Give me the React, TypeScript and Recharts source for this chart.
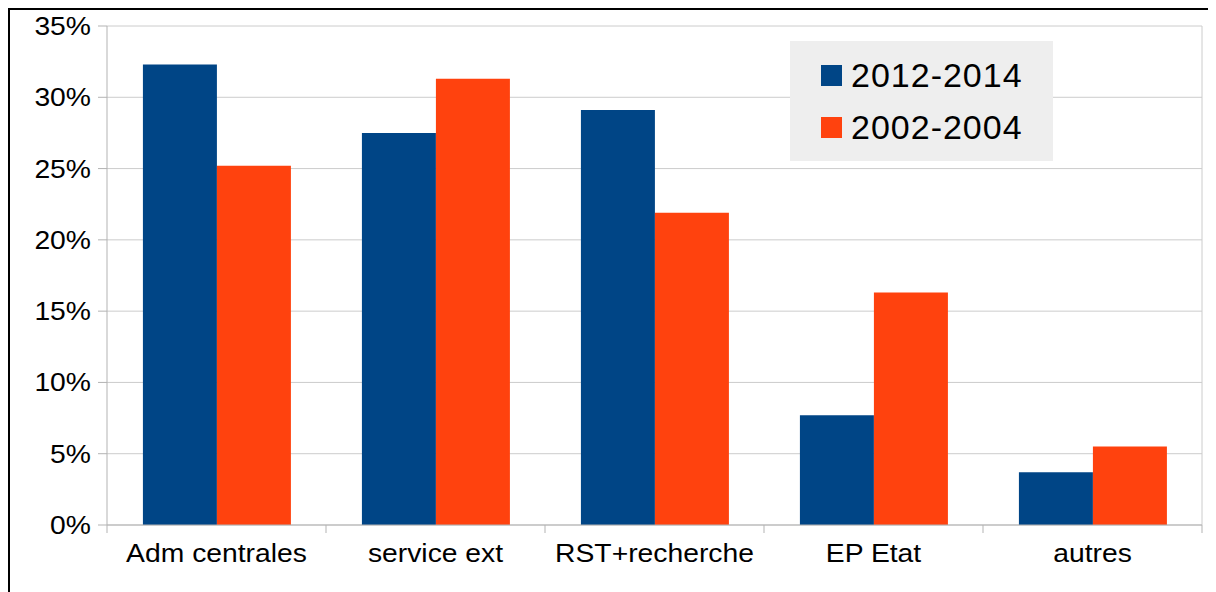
import { BarChart, Bar, XAxis, YAxis, CartesianGrid, Legend } from 'recharts'

const categories = ['Adm centrales', 'service ext', 'RST+recherche', 'EP Etat', 'autres']
const recent = [32.3, 27.5, 29.1, 7.7, 3.7]
const older = [25.2, 31.3, 21.9, 16.3, 5.5]
const yTicks = [0, 5, 10, 15, 20, 25, 30, 35]
const seriesNames = ['2012-2014', '2002-2004']

const BLUE = '#004586'
const ORANGE = '#ff420e'
const AXIS = '#b3b3b3'
const FONT = '"Liberation Sans", Arial, sans-serif'

const data = categories.map((name, i) => ({ name, recent: recent[i], older: older[i] }))

// the source picture is a bit stretched sideways, so labels get a small scaleX
function XTick(props: any) {
  const { x, y, payload, index } = props
  const half = payload?.offset ?? 0
  const last = index === categories.length - 1
  return (
    <g>
      <line x1={x - half} y1={y} x2={x - half} y2={y + 8} stroke={AXIS} />
      {last && <line x1={x + half} y1={y} x2={x + half} y2={y + 8} stroke={AXIS} />}
      <text
        transform={`translate(${x},${y + 37}) scale(1.11,1)`}
        textAnchor="middle"
        fill="#000"
        fontSize={25.5}
        fontFamily={FONT}
      >
        {payload.value}
      </text>
    </g>
  )
}

function YTick(props: any) {
  const { x, y, payload } = props
  return (
    <text
      transform={`translate(${x},${y + 9}) scale(1.11,1)`}
      textAnchor="end"
      fill="#000"
      fontSize={25.5}
      fontFamily={FONT}
    >
      {`${payload.value}%`}
    </text>
  )
}

function LegendBox({ payload }: any) {
  // keep the series order, recharts sorts the legend by name otherwise
  const items = seriesNames
    .map((n) => (payload || []).find((p: any) => p.value === n))
    .filter(Boolean)
  return (
    <div
      style={{
        background: '#eeeeee',
        width: 263,
        height: 120,
        boxSizing: 'border-box',
        padding: '8px 0 0 31px',
        fontFamily: FONT,
        fontSize: 34,
        letterSpacing: 1,
        color: '#000',
      }}
    >
      {items.map((p: any) => (
        <div key={p.value} style={{ display: 'flex', alignItems: 'center', height: 52, lineHeight: '52px' }}>
          <span style={{ width: 21, height: 21, background: p.color, marginRight: 9, display: 'inline-block' }} />
          <span>{p.value}</span>
        </div>
      ))}
    </div>
  )
}

export default function App() {
  return (
    <div
      style={{
        border: '2px solid #000',
        width: 1240,
        height: 620,
        boxSizing: 'border-box',
        background: '#fff',
      }}
    >
      <BarChart
        width={1206}
        height={582}
        data={data}
        margin={{ top: 16, right: 14, bottom: 7, left: 0 }}
        barCategoryGap="16.4%"
        barGap={0}
      >
        <CartesianGrid
          stroke="#cccccc"
          vertical={true}
          verticalCoordinatesGenerator={({ offset }: any) => [offset.left + offset.width]}
        />
        <XAxis
          dataKey="name"
          height={60}
          axisLine={{ stroke: AXIS }}
          tickLine={false}
          tickSize={0}
          tickMargin={0}
          tick={<XTick />}
          interval={0}
        />
        <YAxis
          width={97}
          domain={[0, 35]}
          ticks={yTicks}
          interval={0}
          axisLine={{ stroke: AXIS }}
          tickLine={{ stroke: AXIS }}
          tickSize={9}
          tickMargin={7}
          tick={<YTick />}
        />
        <Legend
          layout="horizontal"
          verticalAlign="middle"
          align="center"
          wrapperStyle={{ left: 780, top: 31, width: 263 }}
          content={<LegendBox />}
        />
        <Bar dataKey="recent" name={seriesNames[0]} fill={BLUE} isAnimationActive={false} />
        <Bar dataKey="older" name={seriesNames[1]} fill={ORANGE} isAnimationActive={false} />
      </BarChart>
    </div>
  )
}
